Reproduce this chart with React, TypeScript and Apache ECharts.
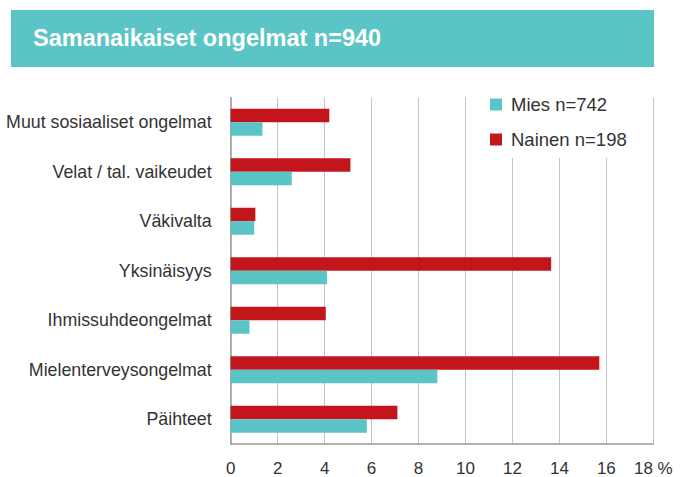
import React, { useEffect, useRef } from "react";
import * as echarts from "echarts";

const titleText = "Samanaikaiset ongelmat n=940";
// bottom-to-top order
const categories = [
  "Päihteet",
  "Mielenterveysongelmat",
  "Ihmissuhdeongelmat",
  "Yksinäisyys",
  "Väkivalta",
  "Velat / tal. vaikeudet",
  "Muut sosiaaliset ongelmat",
];
const miesName = "Mies n=742";
const nainenName = "Nainen n=198";
const miesValues = [5.8, 8.8, 0.8, 4.1, 1.0, 2.6, 1.35];
const nainenValues = [7.1, 15.7, 4.05, 13.65, 1.05, 5.1, 4.2];
const xTicks = [0, 2, 4, 6, 8, 10, 12, 14, 16, 18];

const TEAL = "#5ac4c6";
const RED = "#c3151c";
const FONT = "'Liberation Sans', Arial, Helvetica, sans-serif";

export default function App() {
  const ref = useRef<HTMLDivElement>(null);
  useEffect(() => {
    if (!ref.current) return;
    const chart = echarts.init(ref.current, null, { renderer: "svg" });
    chart.setOption({
      animation: false,
      backgroundColor: "#ffffff",
      textStyle: { fontFamily: FONT },
      graphic: [
        {
          type: "rect",
          shape: { x: 11, y: 10, width: 643, height: 57 },
          style: { fill: TEAL },
          z: 10,
        },
        {
          type: "text",
          x: 33,
          y: 38,
          style: {
            text: titleText,
            fill: "#ffffff",
            font: `bold 23.5px ${FONT}`,
            verticalAlign: "middle",
            textAlign: "left",
          },
          z: 11,
        },
      ],
      legend: {
        orient: "vertical",
        left: 480,
        top: 87,
        padding: [8, 20, 9, 10],
        backgroundColor: "#ffffff",
        itemWidth: 12,
        itemHeight: 12,
        itemGap: 16,
        icon: "rect",
        data: [miesName, nainenName],
        textStyle: {
          fontSize: 18.5,
          color: "#333333",
          fontFamily: FONT,
          padding: [0, 0, 0, 4],
        },
        z: 5,
      },
      grid: { left: 230.7, right: 31.7, top: 97.5, bottom: 32.7, containLabel: false },
      xAxis: {
        type: "value",
        min: xTicks[0],
        max: xTicks[xTicks.length - 1],
        interval: 2,
        axisLine: { show: true, lineStyle: { color: "#9a9a9a", width: 1.5 } },
        axisTick: { show: false },
        splitLine: { show: true, lineStyle: { color: "#c4c4c4", width: 1 } },
        axisLabel: {
          color: "#333333",
          fontSize: 17,
          margin: 16,
          fontFamily: FONT,
          formatter: (v: number) => (v === 18 ? "18 %" : String(v)),
        },
      },
      yAxis: {
        type: "category",
        data: categories,
        axisLine: { show: true, lineStyle: { color: "#9a9a9a", width: 1.5 } },
        axisTick: { show: false },
        axisLabel: { color: "#333333", fontSize: 17.8, margin: 19, fontFamily: FONT },
      },
      series: [
        {
          name: nainenName,
          type: "bar",
          data: nainenValues,
          barWidth: 13.5,
          barGap: "0%",
          itemStyle: { color: RED },
        },
        {
          name: miesName,
          type: "bar",
          data: miesValues,
          barWidth: 13.5,
          barGap: "0%",
          itemStyle: { color: TEAL },
        },
      ],
    });
    return () => chart.dispose();
  }, []);
  return (
    <div
      ref={ref}
      style={{ position: "absolute", left: 0, top: 0, width: 685, height: 477 }}
    />
  );
}
